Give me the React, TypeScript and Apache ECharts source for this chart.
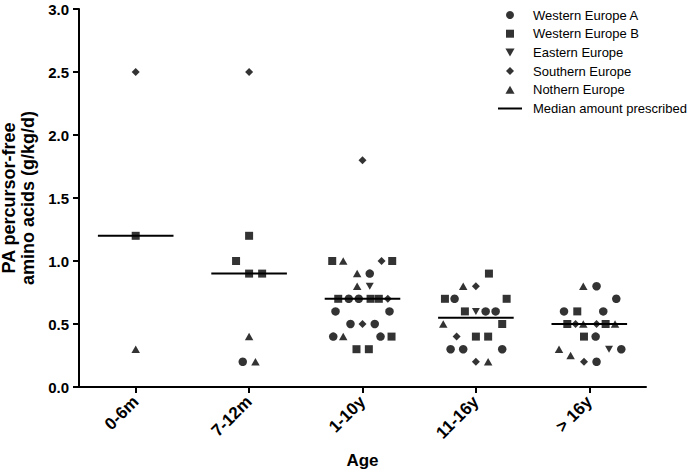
import React, { useEffect, useRef } from "react";
import * as echarts from "echarts";

const categories = ["0-6m", "7-12m", "1-10y", "11-16y", "> 16y"];
const medians = [1.2, 0.9, 0.7, 0.55, 0.5];

// [category index, value, horizontal jitter as a fraction of the category width]
const westernEuropeA: number[][] = [
  [1, 0.2, -0.056],
  [2, 0.9, 0.064], [2, 0.7, -0.121], [2, 0.7, -0.033], [2, 0.6, -0.238], [2, 0.6, 0.238],
  [2, 0.5, -0.106], [2, 0.5, 0.108], [2, 0.4, -0.258], [2, 0.4, 0.159],
  [3, 0.7, -0.188], [3, 0.6, 0.086], [3, 0.6, 0.174], [3, 0.3, -0.223], [3, 0.3, -0.112], [3, 0.3, 0.232],
  [4, 0.8, 0.064], [4, 0.7, 0.238], [4, 0.6, -0.223], [4, 0.6, 0.123], [4, 0.4, 0.056], [4, 0.3, 0.282], [4, 0.2, 0.064],
];
const westernEuropeB: number[][] = [
  [0, 1.2, 0],
  [1, 1.2, 0], [1, 1.0, -0.115], [1, 0.9, 0], [1, 0.9, 0.115],
  [2, 1.0, -0.267], [2, 1.0, 0.262], [2, 0.7, -0.214], [2, 0.7, 0.071], [2, 0.7, 0.144],
  [2, 0.4, 0.256], [2, 0.3, -0.053], [2, 0.3, 0.056],
  [3, 0.9, 0.115], [3, 0.7, -0.273], [3, 0.7, 0.271], [3, 0.6, -0.097], [3, 0.5, 0.232], [3, 0.4, 0], [3, 0.4, 0.108],
  [4, 0.6, -0.106], [4, 0.5, -0.194], [4, 0.5, 0.144], [4, 0.4, -0.047],
];
const easternEurope: number[][] = [
  [2, 0.8, 0.064], [3, 0.6, 0], [4, 0.3, 0.174],
];
const southernEurope: number[][] = [
  [0, 2.5, 0],
  [1, 2.5, 0],
  [2, 1.8, 0], [2, 1.0, 0.168], [2, 0.7, 0.223], [2, 0.5, 0],
  [3, 0.8, 0], [3, 0.4, -0.17], [3, 0.2, 0],
  [4, 0.5, -0.121], [4, 0.5, 0.064], [4, 0.2, -0.047],
];
const northernEurope: number[][] = [
  [0, 0.3, 0],
  [1, 0.4, 0], [1, 0.2, 0.056],
  [2, 1.0, -0.17], [2, 0.9, -0.047], [2, 0.8, -0.047], [2, 0.4, -0.17],
  [3, 0.8, -0.112], [3, 0.5, -0.288], [3, 0.2, 0.108],
  [4, 0.8, -0.053], [4, 0.5, -0.053], [4, 0.5, 0.227], [4, 0.3, -0.267], [4, 0.25, -0.165],
];

const FONT = "'Liberation Sans', Arial, Helvetica, sans-serif";

const SQUARE = "path://M0,0H8V8H0Z";
const DOWN_TRI = "path://M0,0H8L4,7Z";
const DIAMOND = "path://M4,0L8,4L4,8L0,4Z";
const UP_TRI = "path://M4,0L8,7H0Z";
const DASH = "path://M0,0H24V2H0Z";

function scatter(name: string, pts: number[][], symbol: string, size: number | number[]) {
  return {
    name,
    type: "scatter",
    xAxisIndex: 1,
    yAxisIndex: 0,
    symbol,
    symbolSize: size,
    itemStyle: { color: "#000" },
    data: pts.map((p) => [p[0] + p[2], p[1]]),
    z: 3,
  };
}

export default function App() {
  const ref = useRef<HTMLDivElement>(null);
  useEffect(() => {
    if (!ref.current) return;
    const chart = echarts.init(ref.current, undefined, { renderer: "svg" });
    chart.setOption({
      animation: false,
      backgroundColor: "#fff",
      textStyle: { fontFamily: FONT, color: "#000" },
      grid: { left: 79, right: 43, top: 9, bottom: 85, containLabel: false, outerBoundsMode: "none" },
      legend: {
        orient: "vertical",
        left: 498,
        top: 8,
        padding: 0,
        itemWidth: 24,
        itemHeight: 8,
        itemGap: 4.7,
        selectedMode: false,
        textStyle: { fontSize: 13, color: "#000", fontFamily: FONT, lineHeight: 14, padding: [0, 0, 0, 6] },
        data: [
          { name: "Western Europe A", icon: "circle" },
          { name: "Western Europe B", icon: SQUARE },
          { name: "Eastern Europe", icon: DOWN_TRI },
          { name: "Southern Europe", icon: DIAMOND },
          { name: "Nothern Europe", icon: UP_TRI },
          { name: "Median amount prescribed", icon: DASH, itemStyle: { color: "#000", borderWidth: 0 } },
        ],
      },
      xAxis: [
        {
          type: "category",
          data: categories,
          boundaryGap: true,
          name: "Age",
          nameLocation: "middle",
          nameGap: 65,
          nameTextStyle: { fontSize: 17, fontWeight: "bold", color: "#000", fontFamily: FONT },
          axisLine: { show: true, onZero: false, lineStyle: { color: "#000", width: 2 } },
          axisTick: { show: true, alignWithLabel: true, length: 6, lineStyle: { color: "#000", width: 2 } },
          axisLabel: { rotate: 45, margin: 12, fontSize: 17, fontWeight: "bold", color: "#000", fontFamily: FONT },
          splitLine: { show: false },
        },
        {
          type: "value",
          min: -0.5,
          max: 4.5,
          show: false,
          axisLine: { onZero: false },
          splitLine: { show: false },
        },
      ],
      yAxis: {
        type: "value",
        min: 0,
        max: 3,
        interval: 0.5,
        name: "PA percursor-free\namino acids (g/kg/d)",
        nameLocation: "middle",
        nameRotate: 90,
        nameGap: 25,
        nameTextStyle: { fontSize: 18, fontWeight: "bold", color: "#000", fontFamily: FONT, lineHeight: 19 },
        axisLine: { show: true, onZero: false, lineStyle: { color: "#000", width: 2 } },
        axisTick: { show: true, length: 6, lineStyle: { color: "#000", width: 2 } },
        axisLabel: {
          margin: 10,
          fontSize: 15,
          fontWeight: "bold",
          color: "#000",
          fontFamily: FONT,
          formatter: (v: number) => v.toFixed(1),
        },
        splitLine: { show: false },
      },
      series: [
        scatter("Western Europe A", westernEuropeA, "circle", 8.5),
        scatter("Western Europe B", westernEuropeB, SQUARE, 8),
        scatter("Eastern Europe", easternEurope, DOWN_TRI, [8, 7]),
        scatter("Southern Europe", southernEurope, DIAMOND, 8),
        scatter("Nothern Europe", northernEurope, UP_TRI, [8.5, 7.5]),
        {
          name: "Median amount prescribed",
          type: "custom",
          xAxisIndex: 1,
          yAxisIndex: 0,
          itemStyle: { color: "#000" },
          z: 2,
          data: medians.map((m, i) => [i, m]),
          renderItem: (params: any, api: any) => {
            const c = api.value(0);
            const v = api.value(1);
            const p1 = api.coord([c - 1 / 3, v]);
            const p2 = api.coord([c + 1 / 3, v]);
            return {
              type: "line",
              shape: { x1: p1[0], y1: p1[1], x2: p2[0], y2: p2[1] },
              style: { stroke: "#000", lineWidth: 2 },
            };
          },
        },
      ],
    });
    return () => chart.dispose();
  }, []);
  return <div ref={ref} style={{ position: "fixed", left: 0, top: 0, width: 689, height: 472 }} />;
}
